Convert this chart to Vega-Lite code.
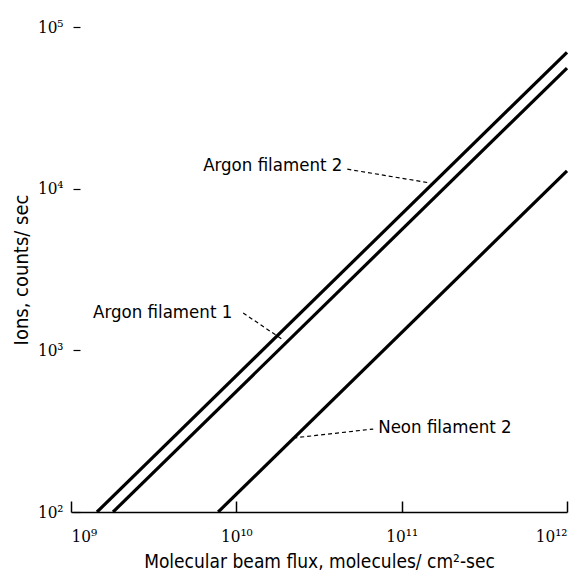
{
  "$schema": "https://vega.github.io/schema/vega-lite/v6.json",
  "width": 496,
  "height": 485,
  "autosize": {"type": "none"},
  "padding": {"left": 71, "top": 27, "right": 5, "bottom": 62},
  "background": "white",
  "config": {
    "view": {"stroke": null},
    "font": "DejaVu Sans Condensed"
  },
  "datasets": {
    "lines": [
      {"series": "Argon filament 2", "flux": 1435000000, "ions": 100},
      {"series": "Argon filament 2", "flux": 1000000000000, "ions": 69700},
      {"series": "Argon filament 1", "flux": 1795000000, "ions": 100},
      {"series": "Argon filament 1", "flux": 1000000000000, "ions": 55700},
      {"series": "Neon filament 2", "flux": 7760000000, "ions": 100},
      {"series": "Neon filament 2", "flux": 1000000000000, "ions": 12890}
    ],
    "leaders": [
      {"flux": 46900000000, "ions": 13200, "flux2": 149000000000, "ions2": 10840},
      {"flux": 11000000000, "ions": 1702, "flux2": 19200000000, "ions2": 1159},
      {"flux": 22100000000, "ions": 287, "flux2": 67300000000, "ions2": 326}
    ],
    "labels": [
      {"label": "Argon filament 2", "flux": 6300000000, "ions": 14000},
      {"label": "Argon filament 1", "flux": 1360000000, "ions": 1726},
      {"label": "Neon filament 2", "flux": 72100000000, "ions": 336}
    ]
  },
  "layer": [
    {
      "data": {"name": "lines"},
      "mark": {"type": "line", "color": "black", "strokeWidth": 3.2},
      "encoding": {
        "x": {
          "field": "flux", "type": "quantitative",
          "title": "Molecular beam flux, molecules/ cm²-sec",
          "scale": {"type": "log", "domain": [1000000000, 1000000000000], "nice": false},
          "axis": {
            "values": [1000000000, 10000000000, 100000000000, 1000000000000],
            "labelExpr": "datum.value < 5e9 ? '10⁹' : datum.value < 5e10 ? '10¹⁰' : datum.value < 5e11 ? '10¹¹' : '10¹²'",
            "labelFont": "DejaVu Serif Condensed", "labelFontSize": 17, "labelColor": "black",
            "labelPadding": 27,
            "domainColor": "black", "domainWidth": 1.5,
            "tickColor": "black", "tickWidth": 1.5, "tickSize": -11,
            "grid": false,
            "titleFont": "DejaVu Sans Condensed", "titleFontSize": 19, "titleFontWeight": "normal", "titleColor": "black",
            "titlePadding": 8
          }
        },
        "y": {
          "field": "ions", "type": "quantitative",
          "title": "Ions, counts/ sec",
          "scale": {"type": "log", "domain": [100, 100000], "nice": false},
          "axis": {
            "values": [100, 1000, 10000, 100000],
            "labelExpr": "datum.value < 500 ? '10²' : datum.value < 5000 ? '10³' : datum.value < 50000 ? '10⁴' : '10⁵'",
            "labelFont": "DejaVu Serif Condensed", "labelFontSize": 17, "labelColor": "black",
            "labelPadding": 10,
            "domain": false, "offset": -9,
            "tickColor": "black", "tickWidth": 1.2, "tickSize": 7,
            "grid": false,
            "titleFont": "DejaVu Sans Condensed", "titleFontSize": 20, "titleFontWeight": "normal", "titleColor": "black",
            "titlePadding": 6
          }
        },
        "detail": {"field": "series"}
      }
    },
    {
      "data": {"name": "leaders"},
      "mark": {"type": "rule", "color": "black", "strokeWidth": 1.2, "strokeDash": [4, 3]},
      "encoding": {
        "x": {"field": "flux", "type": "quantitative", "title": "Molecular beam flux, molecules/ cm²-sec"},
        "y": {"field": "ions", "type": "quantitative", "title": "Ions, counts/ sec"},
        "x2": {"field": "flux2"},
        "y2": {"field": "ions2"}
      }
    },
    {
      "data": {"name": "labels"},
      "mark": {"type": "text", "align": "left", "baseline": "middle", "fontSize": 18.5, "color": "black", "font": "DejaVu Sans Condensed"},
      "encoding": {
        "x": {"field": "flux", "type": "quantitative", "title": "Molecular beam flux, molecules/ cm²-sec"},
        "y": {"field": "ions", "type": "quantitative", "title": "Ions, counts/ sec"},
        "text": {"field": "label"}
      }
    }
  ]
}
